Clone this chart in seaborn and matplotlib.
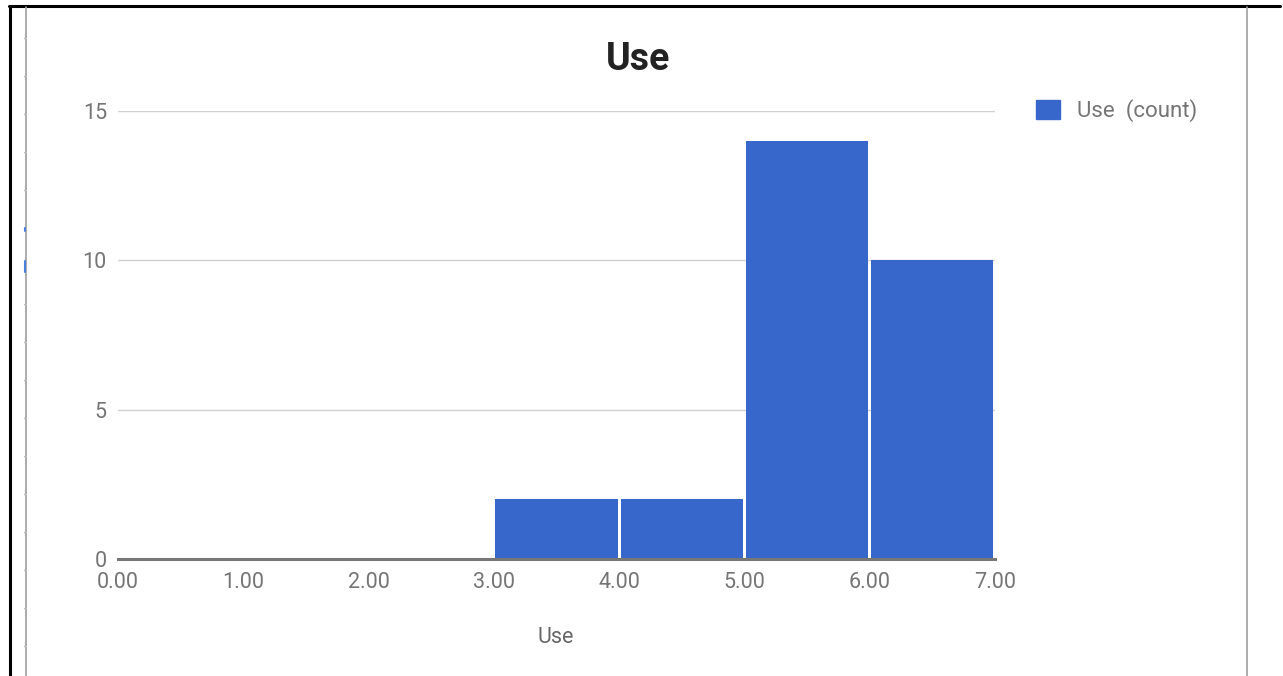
import matplotlib
matplotlib.use("Agg")
import matplotlib.pyplot as plt
from matplotlib.lines import Line2D
from matplotlib.patches import Patch
import pandas as pd
import seaborn as sns

# Histogram of "Use" scores: bin edges and counts per bin
bin_edges = [0, 1, 2, 3, 4, 5, 6, 7]
bin_counts = [0, 0, 0, 2, 2, 14, 10]
x_ticks = [0, 1, 2, 3, 4, 5, 6, 7]
x_tick_labels = ["0.00", "1.00", "2.00", "3.00", "4.00", "5.00", "6.00", "7.00"]
y_ticks = [0, 5, 10, 15]
title = "Use"
x_label = "Use"
legend_label = "Use  (count)"

BLUE = "#3867cc"
GRAY_TEXT = "#757575"

sns.set_theme(style="white")
plt.rcParams["font.family"] = ["Roboto", "DejaVu Sans"]

centers = [(a + b) / 2 for a, b in zip(bin_edges[:-1], bin_edges[1:])]
df = pd.DataFrame({"Use": centers, "count": bin_counts})

W, H = 1283, 676
fig = plt.figure(figsize=(W / 100, H / 100), dpi=100)
ax = fig.add_axes([118 / W, 1 - 559 / H, (995 - 118) / W, (559 - 111) / H])

sns.histplot(data=df, x="Use", weights="count", bins=bin_edges, ax=ax,
             color=BLUE, alpha=1.0, linewidth=0, shrink=0.975)

ax.set_xlim(0, 7)
ax.set_ylim(0, 15)
ax.set_xticks(x_ticks)
ax.set_xticklabels(x_tick_labels)
ax.set_yticks(y_ticks)
ax.tick_params(axis="both", length=0, labelsize=15.5, labelcolor=GRAY_TEXT)
ax.tick_params(axis="x", pad=9)
ax.tick_params(axis="y", pad=8)

ax.grid(axis="y", color="#d0d0d0", linewidth=1)
ax.set_axisbelow(True)
for side in ["top", "right", "left"]:
    ax.spines[side].set_visible(False)
ax.spines["bottom"].set_color("#777777")
ax.spines["bottom"].set_linewidth(2.2)
ax.spines["bottom"].set_zorder(5)

ax.set_xlabel("")
ax.set_ylabel("")
fig.text(556 / W, 1 - 643 / H, x_label, ha="center", va="baseline",
         fontsize=15.5, color="#666666")
fig.text(638 / W, 1 - 70 / H, title, ha="center", va="baseline",
         fontsize=27, fontweight="bold", color="#222222")

handle = Patch(facecolor=BLUE, edgecolor=BLUE)
leg = fig.legend([handle], [legend_label], loc="center left",
                 bbox_to_anchor=(1036 / W, 1 - 111 / H), frameon=False,
                 fontsize=16, handlelength=1.1, handleheight=0.95,
                 handletextpad=0.75, borderpad=0, borderaxespad=0)
for t in leg.get_texts():
    t.set_color(GRAY_TEXT)

# Surrounding page frame
def fline(x0, y0, x1, y1, **kw):
    fig.add_artist(Line2D([x0 / W, x1 / W], [1 - y0 / H, 1 - y1 / H],
                          transform=fig.transFigure, **kw))

fline(9, 6, 1280, 6, color="black", linewidth=2.2)
fline(10, 6, 10, 676, color="black", linewidth=2.2)
fline(26, 7, 26, 676, color="#9e9e9e", linewidth=1.2)
fline(1247, 7, 1247, 676, color="#9e9e9e", linewidth=1.2)
for yy in range(38, 676, 38):
    fline(24, yy, 26, yy, color="#bbbbbb", linewidth=1)
fline(25, 228, 25, 231, color="#4a7fe0", linewidth=1.5)
fline(25, 261, 25, 272, color="#4a7fe0", linewidth=1.5)

fig.savefig("out.png", dpi=100, facecolor="white")
